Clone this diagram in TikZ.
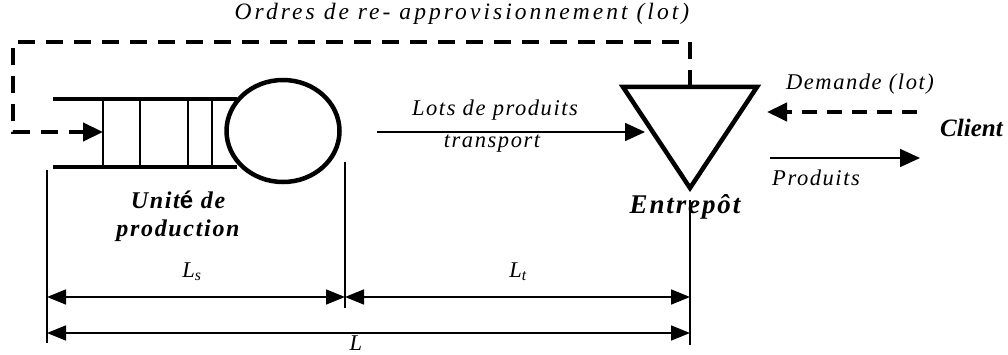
\documentclass[tikz,border=0pt]{standalone}
\usepackage{fontspec}
\setmainfont{Liberation Serif}
\newfontfamily\spaced{Liberation Serif}[LetterSpace=7]
\newfontfamily\wide{Liberation Serif}[LetterSpace=13]
\newfontfamily\accentfont{Liberation Sans}
\usetikzlibrary{arrows.meta,shapes.geometric}

\begin{document}
\begin{tikzpicture}[x=1pt, y=-1pt,
    every node/.style={font=\fontsize{22.5}{26}\selectfont\spaced\itshape, inner sep=0pt},
    heavy/.style={line width=4.5pt, line join=miter},
    order/.style={line width=4.5pt, dash pattern=on 17pt off 11pt, line join=miter},
    fine/.style={line width=1.6pt},
    bigtip/.style={-{Triangle[length=20pt,width=18pt]}},
    dimarrow/.style={line width=1.6pt, {Triangle[length=19pt,width=15pt]}-{Triangle[length=19pt,width=15pt]}},
    label/.style={font=\fontsize{26}{30}\selectfont\spaced\bfseries\itshape}]
  \useasboundingbox (0,0) rectangle (1008,355);

  % unite de production
  \node[draw, heavy, ellipse, minimum width=113pt, minimum height=102pt] (machine) at (283,131) {};
  \draw[heavy] (53,99) -- (237,99);
  \draw[heavy] (53,167) -- (237,167);
  \foreach \x in {103,140,188,212}
    \draw[fine] (\x,99) -- (\x,167);
  \coordinate (queue-in) at (103,132);
  \node[label, align=center, font=\fontsize{24}{28}\selectfont\spaced\bfseries\itshape] (unite) at (178,216)
    {Unit{\accentfont\upshape é} de\\production};

  % entrepot
  \coordinate (tri-l) at (623,87);
  \coordinate (tri-r) at (757,87);
  \coordinate (tri-b) at (690,188);
  \coordinate (tri-top) at (690,87);
  \draw[heavy] (tri-l) -- (tri-r) -- (tri-b) -- cycle;
  \node[label, font=\fontsize{27}{30}\selectfont\spaced\bfseries\itshape] (entrepot) at (685,207) {Entrepôt};

  % ordres de reapprovisionnement
  \node[font=\fontsize{23.5}{26}\selectfont\wide\itshape] (ordres) at (462,14) {Ordres de re- approvisionnement (lot)};
  \draw[order, bigtip] (tri-top) |- (13,42) |- (queue-in);

  % transport
  \coordinate (lots-a) at (377,132);
  \coordinate (lots-b) at (645,132);
  \draw[fine, bigtip] (lots-a) -- (lots-b);
  \node (lots) at (495,110) {Lots de produits};
  \node (transp) at (492,144) {transport};

  % client
  \node[label, anchor=west, font=\fontsize{25}{30}\selectfont\bfseries\itshape] (client) at (940,128) {Client};
  \node (demande) at (860,84) {Demande (lot)};
  \coordinate (dem-a) at (917,112);
  \coordinate (dem-b) at (767,112);
  \draw[order, dash pattern=on 15pt off 10pt, bigtip] (dem-a) -- (dem-b);
  \coordinate (prod-a) at (770,158);
  \coordinate (prod-b) at (920,158);
  \draw[fine, bigtip] (prod-a) -- (prod-b);
  \node[anchor=west] (produits) at (772,178) {Produits};

  % cotes
  \coordinate (c1) at (47,170);
  \coordinate (c2) at (345,162);
  \coordinate (c3) at (690,200);
  \draw[fine] (c1) -- (47,343);
  \draw[fine] (c2) -- (345,308);
  \draw[fine] (c3) -- (690,345);
  \draw[dimarrow] (47,297) -- (345,297);
  \draw[dimarrow] (345,297) -- (690,297);
  \draw[dimarrow] (47,333) -- (690,333);
  \node (ls) at (192,272) {L\textsubscript{s}};
  \node (lt) at (518,272) {L\textsubscript{t}};
  \node (lL) at (356,343) {L};
\end{tikzpicture}
\end{document}
